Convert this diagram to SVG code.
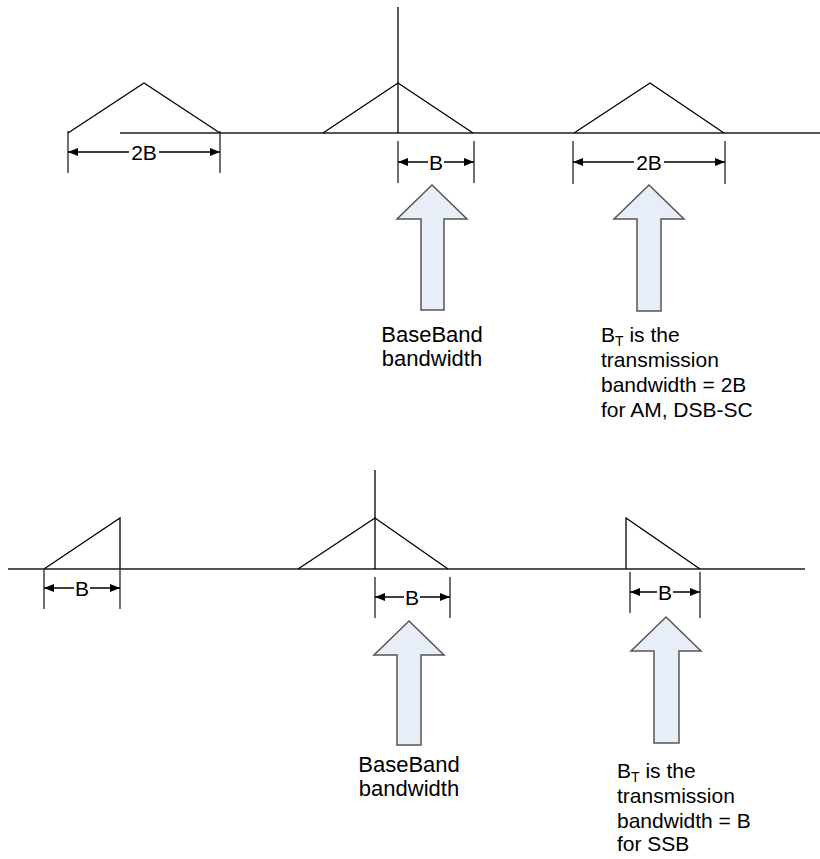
<svg xmlns="http://www.w3.org/2000/svg" width="820" height="859" viewBox="0 0 820 859">
<defs>
<marker id="ah" viewBox="0 0 10 8" refX="10" refY="4" markerWidth="10" markerHeight="8" markerUnits="userSpaceOnUse" orient="auto-start-reverse">
<path d="M0,0 L10,4 L0,8 Z" fill="#000"/>
</marker>
<style>
.axis{stroke:#555;stroke-width:2;fill:none}
.sp{stroke:#000;stroke-width:1.3;fill:none}
.ext{stroke:#222;stroke-width:1.3;fill:none}
.dim{stroke:#000;stroke-width:1.3;fill:none;marker-start:url(#ah);marker-end:url(#ah)}
.lbl{font-family:"Liberation Sans",Arial,sans-serif;font-size:21px;fill:#000;text-anchor:middle}
.bg{fill:#fff}
.big{fill:#e8eef8;stroke:#555;stroke-width:1.5}
.cap{font-family:"Liberation Sans",Arial,sans-serif;font-size:22px;fill:#000;text-anchor:middle}
.note{font-family:"Liberation Sans",Arial,sans-serif;font-size:21px;fill:#000}
</style>
</defs>

<g id="top-spectrum">
<line class="axis" x1="120" y1="133" x2="820" y2="133"/>
<polyline class="sp" points="68,133 144,83 220,133"/>
<line class="sp" x1="398" y1="7" x2="398" y2="133"/>
<polyline class="sp" points="323,133 398,83 473,133"/>
<polyline class="sp" points="574,133 650,83 724,133"/>
</g>

<g id="connectors">
<line class="ext" x1="68" y1="131" x2="68" y2="173"/>
<line class="ext" x1="220" y1="131" x2="220" y2="173"/>
<line class="dim" x1="68" y1="152" x2="220" y2="152"/>
<line class="ext" x1="398" y1="141" x2="398" y2="183"/>
<line class="ext" x1="474" y1="141" x2="474" y2="183"/>
<line class="dim" x1="398" y1="162" x2="474" y2="162"/>
<line class="ext" x1="573" y1="141" x2="573" y2="184"/>
<line class="ext" x1="725" y1="141" x2="725" y2="184"/>
<line class="dim" x1="573" y1="162" x2="725" y2="162"/>
<line class="ext" x1="44" y1="569" x2="44" y2="609"/>
<line class="ext" x1="120" y1="569" x2="120" y2="609"/>
<line class="dim" x1="44" y1="588" x2="120" y2="588"/>
<line class="ext" x1="375" y1="577" x2="375" y2="618"/>
<line class="ext" x1="450" y1="577" x2="450" y2="618"/>
<line class="dim" x1="375" y1="597" x2="450" y2="597"/>
<line class="ext" x1="630" y1="572" x2="630" y2="613"/>
<line class="ext" x1="700" y1="572" x2="700" y2="618"/>
<line class="dim" x1="630" y1="592" x2="700" y2="592"/>
</g>

<g id="dim-labels">
<rect class="bg" x="129" y="143" width="30" height="18"/>
<text class="lbl" x="144" y="160">2B</text>
<rect class="bg" x="428" y="153" width="16" height="18"/>
<text class="lbl" x="436" y="170">B</text>
<rect class="bg" x="634" y="153" width="30" height="18"/>
<text class="lbl" x="649" y="170">2B</text>
<rect class="bg" x="74" y="579" width="16" height="18"/>
<text class="lbl" x="82" y="596">B</text>
<rect class="bg" x="404" y="588" width="16" height="18"/>
<text class="lbl" x="412" y="605">B</text>
<rect class="bg" x="657" y="583" width="16" height="18"/>
<text class="lbl" x="665" y="600">B</text>
</g>

<g id="top-baseband-arrow">
<polygon class="big" points="432,185 467,219 444,219 444,310 421,310 421,219 397,219"/>
<text class="cap" x="432" y="342">BaseBand</text>
<text class="cap" x="432" y="366">bandwidth</text>
</g>

<g id="top-bt-arrow">
<polygon class="big" points="649,185 684,219 661,219 661,311 637,311 637,219 614,219"/>
<text class="note" x="601" y="342">B<tspan font-size="14" dy="4">T</tspan><tspan dy="-4"> is the</tspan></text>
<text class="note" x="601" y="367">transmission</text>
<text class="note" x="601" y="392">bandwidth = 2B</text>
<text class="note" x="601" y="417">for AM, DSB-SC</text>
</g>

<g id="bottom-spectrum">
<line class="axis" x1="8" y1="569" x2="805" y2="569"/>
<polyline class="sp" points="44,569 120,518 120,569"/>
<line class="sp" x1="375" y1="470" x2="375" y2="569"/>
<polyline class="sp" points="298,569 375,518 448,569"/>
<polyline class="sp" points="626,569 626,518 700,569"/>
</g>

<g id="bottom-baseband-arrow">
<polygon class="big" points="409,621 444,655 421,655 421,745 397,745 397,655 374,655"/>
<text class="cap" x="409" y="772">BaseBand</text>
<text class="cap" x="409" y="796">bandwidth</text>
</g>

<g id="bottom-bt-arrow">
<polygon class="big" points="666,617 701,651 679,651 679,743 654,743 654,651 631,651"/>
<text class="note" x="617" y="778">B<tspan font-size="14" dy="4">T</tspan><tspan dy="-4"> is the</tspan></text>
<text class="note" x="617" y="803">transmission</text>
<text class="note" x="617" y="828">bandwidth = B</text>
<text class="note" x="617" y="851">for SSB</text>
</g>
</svg>
